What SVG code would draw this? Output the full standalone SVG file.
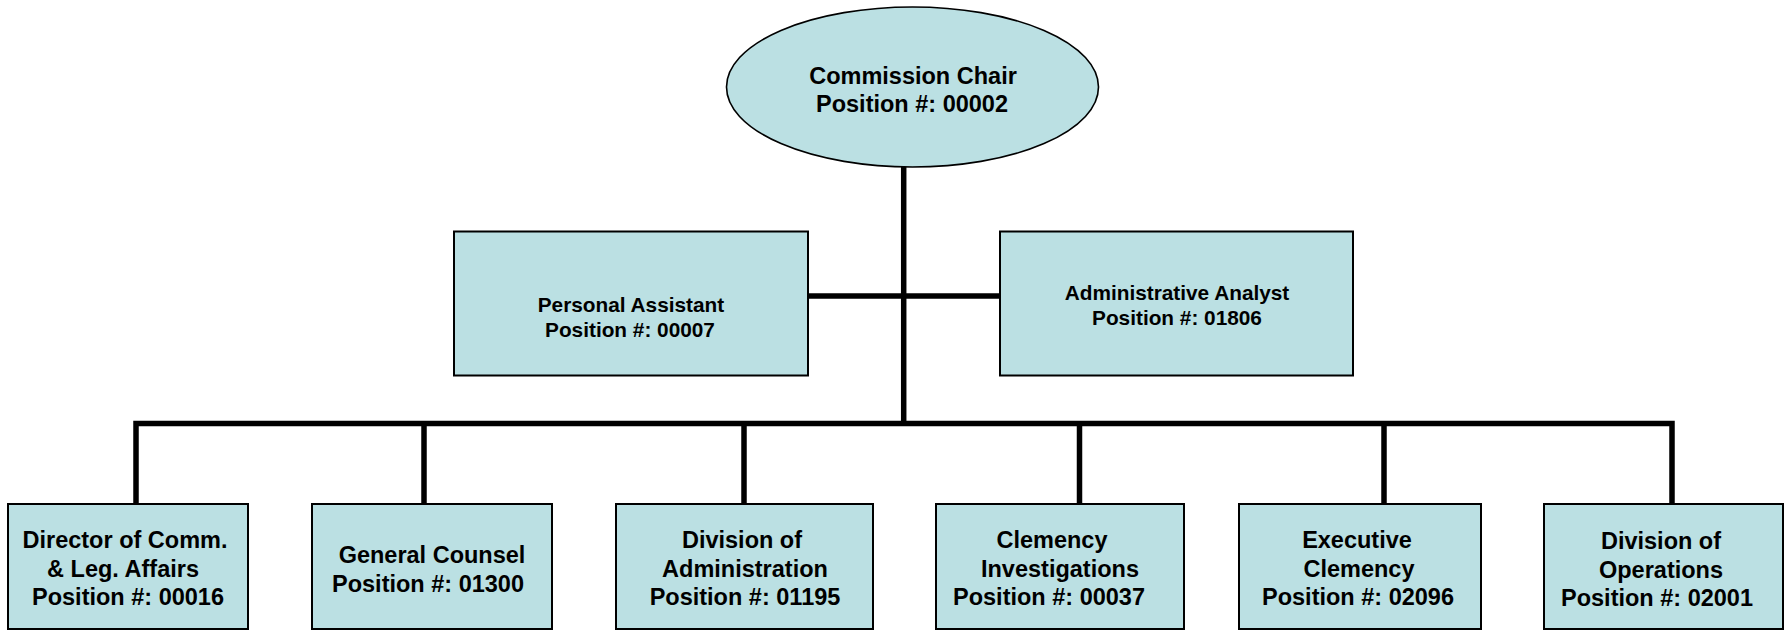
<svg xmlns="http://www.w3.org/2000/svg" width="1789" height="630" viewBox="0 0 1789 630">
<style>
.box{fill:#BBE0E3;stroke:#000;stroke-width:2}
.ell{fill:#BBE0E3;stroke:#000;stroke-width:1.6}
.conn{fill:none;stroke:#000;stroke-width:5.5;stroke-linejoin:miter;stroke-linecap:butt}
.t{font-family:"Liberation Sans",Arial,sans-serif;font-weight:bold;fill:#000;text-anchor:middle}
.t24{font-size:23.5px}
.t21{font-size:20.8px}
</style>
<rect width="1789" height="630" fill="#fff"/>
<g id="connectors">
<path class="conn" d="M903.7,167 V424"/>
<path class="conn" d="M808,296 H1000"/>
<path class="conn" d="M136,505 V423.5 H1672 V505"/>
<path class="conn" d="M424,423.5 V505"/>
<path class="conn" d="M744,423.5 V505"/>
<path class="conn" d="M1079.5,423.5 V505"/>
<path class="conn" d="M1384,423.5 V505"/>
</g>
<g id="chair">
<ellipse class="ell" cx="912.5" cy="87" rx="186" ry="80"/>
<text class="t t24" x="913" y="83.5">Commission Chair</text>
<text class="t t24" x="912" y="111.5">Position #: 00002</text>
</g>
<g id="personal-assistant">
<rect class="box" x="454" y="231.5" width="354" height="144"/>
<text class="t t21" x="631" y="312">Personal Assistant</text>
<text class="t t21" x="630" y="336.5">Position #: 00007</text>
</g>
<g id="admin-analyst">
<rect class="box" x="1000" y="231.5" width="353" height="144"/>
<text class="t t21" x="1177" y="299.5">Administrative Analyst</text>
<text class="t t21" x="1177" y="324.5">Position #: 01806</text>
</g>
<g id="director-comm">
<rect class="box" x="8" y="504" width="240" height="125"/>
<text class="t t24" x="125" y="548">Director of Comm.</text>
<text class="t t24" x="123" y="577">&amp; Leg. Affairs</text>
<text class="t t24" x="128" y="605">Position #: 00016</text>
</g>
<g id="general-counsel">
<rect class="box" x="312" y="504" width="240" height="125"/>
<text class="t t24" x="432" y="563">General Counsel</text>
<text class="t t24" x="428" y="592">Position #: 01300</text>
</g>
<g id="division-administration">
<rect class="box" x="616" y="504" width="257" height="125"/>
<text class="t t24" x="742" y="548">Division of</text>
<text class="t t24" x="745" y="577">Administration</text>
<text class="t t24" x="745" y="605">Position #: 01195</text>
</g>
<g id="clemency-investigations">
<rect class="box" x="936" y="504" width="248" height="125"/>
<text class="t t24" x="1052" y="548">Clemency</text>
<text class="t t24" x="1060" y="577">Investigations</text>
<text class="t t24" x="1049" y="605">Position #: 00037</text>
</g>
<g id="executive-clemency">
<rect class="box" x="1239" y="504" width="242" height="125"/>
<text class="t t24" x="1357" y="548">Executive</text>
<text class="t t24" x="1359" y="577">Clemency</text>
<text class="t t24" x="1358" y="605">Position #: 02096</text>
</g>
<g id="division-operations">
<rect class="box" x="1544" y="504" width="239" height="125"/>
<text class="t t24" x="1661" y="549">Division of</text>
<text class="t t24" x="1661" y="578">Operations</text>
<text class="t t24" x="1657" y="606">Position #: 02001</text>
</g>
</svg>
